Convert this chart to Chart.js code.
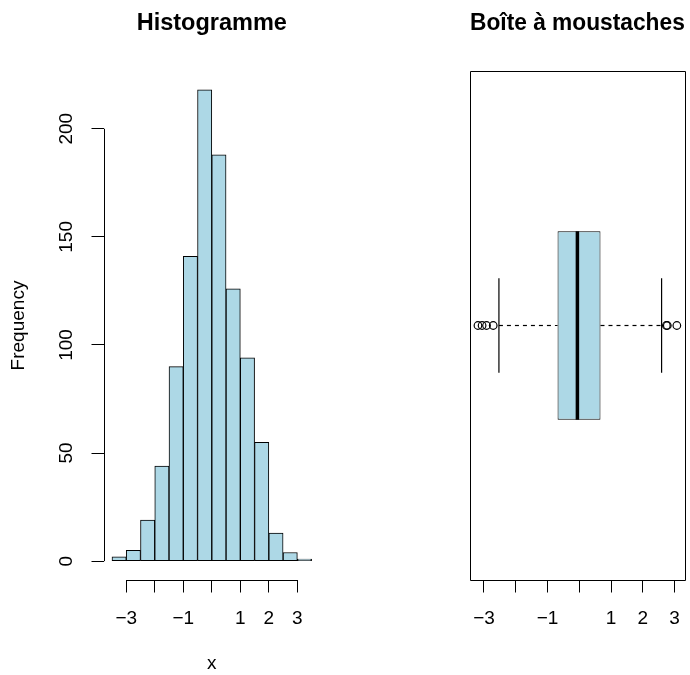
<!DOCTYPE html>
<html>
<head>
<meta charset="utf-8">
<script src="https://cdn.jsdelivr.net/npm/chart.js@4/dist/chart.umd.min.js"></script>
<style>
body { margin: 0; background: #fff; }
#wrap { position: relative; width: 690px; height: 675px; }
canvas { position: absolute; top: 0; }
#histChart { left: 0; }
#boxChart { left: 345px; }
</style>
</head>
<body>
<div id="wrap">
<canvas id="histChart" width="345" height="675"></canvas>
<canvas id="boxChart" width="345" height="675"></canvas>
</div>
<script>
// histogram, bins of width 0.5
const binEdges = [-3.5, -3, -2.5, -2, -1.5, -1, -0.5, 0, 0.5, 1, 1.5, 2, 2.5, 3, 3.5];
const binCounts = [2, 5, 19, 44, 90, 141, 218, 188, 126, 94, 55, 13, 4, 1];
const freqTicks = [0, 50, 100, 150, 200];
const xTicks = [-3, -2, -1, 0, 1, 2, 3];
const xTickLabels = ['\u22123', '', '\u22121', '', '1', '2', '3'];
// boxplot: lower whisker, Q1, median, Q3, upper whisker
const boxStats = [-2.53, -0.685, -0.06, 0.667, 2.59];
const outliers = [-3.19, -3.06, -2.92, -2.71, 2.74, 2.77, 3.07];

Chart.defaults.font.family = '"Liberation Sans", Arial, sans-serif';
Chart.defaults.color = '#000';

const tickFont = { size: 19 };
const titleFont = { size: 23.5, weight: 'bold' };

// R pads every axis range by 4%
function rRange(lo, hi) {
    const d = (hi - lo) * 0.04;
    return [lo - d, hi + d];
}

function crisp(v) {
    return Math.round(v) + 0.5;
}

// axis lines only between first and last tick, like R, plus optional box()
const rAxes = {
    id: 'rAxes',
    afterDraw(chart, args, opts) {
        const ctx = chart.ctx;
        const a = chart.chartArea;
        const xs = chart.scales.x;
        ctx.save();
        ctx.strokeStyle = '#000';
        ctx.lineWidth = 1;
        ctx.beginPath();
        if (opts.frame) {
            ctx.rect(crisp(a.left), crisp(a.top), Math.round(a.right) - Math.round(a.left), Math.round(a.bottom) - Math.round(a.top));
        } else {
            const yb = crisp(a.bottom);
            ctx.moveTo(xs.getPixelForValue(xTicks[0]), yb);
            ctx.lineTo(xs.getPixelForValue(xTicks[xTicks.length - 1]), yb);
            const ys = chart.scales.y;
            const xl = crisp(a.left);
            ctx.moveTo(xl, ys.getPixelForValue(freqTicks[0]));
            ctx.lineTo(xl, ys.getPixelForValue(freqTicks[freqTicks.length - 1]));
        }
        ctx.stroke();
        ctx.restore();
    }
};

function xScale(range, withTitle) {
    return {
        type: 'linear',
        min: range[0],
        max: range[1],
        offset: false,
        afterBuildTicks: s => { s.ticks = xTicks.map(v => ({ value: v })); },
        afterFit: s => {
            s.height = 95;
            s.paddingLeft = 0;
            s.paddingRight = 0;
        },
        grid: { offset: false, drawOnChartArea: false, tickLength: 12.5, color: '#000', lineWidth: 1 },
        border: { display: false },
        ticks: {
            autoSkip: false, maxRotation: 0, padding: 14.5, font: tickFont,
            callback: (v, i) => xTickLabels[i]
        },
        title: { display: withTitle, text: 'x', font: tickFont, padding: 0 }
    };
}

function mainTitle(text) {
    return {
        display: true, text: text, fullSize: false, font: titleFont,
        padding: { top: 9.5, bottom: 33.3 }
    };
}

// --- histogram ---
const hx = rRange(binEdges[0], binEdges[binEdges.length - 1]);
const hy = rRange(0, Math.max(...binCounts));

new Chart(document.getElementById('histChart'), {
    type: 'bar',
    data: {
        datasets: [{
            data: binCounts.map((c, i) => ({ x: (binEdges[i] + binEdges[i + 1]) / 2, y: c })),
            backgroundColor: '#add8e6',
            borderColor: '#000',
            borderWidth: 1,
            borderSkipped: false,
            barPercentage: 1,
            categoryPercentage: 1
        }]
    },
    options: {
        responsive: false,
        animation: false,
        events: [],
        layout: { padding: { top: 0, right: 25.4, bottom: 0, left: 0 } },
        plugins: {
            legend: { display: false },
            tooltip: { enabled: false },
            title: mainTitle('Histogramme'),
            rAxes: { frame: false }
        },
        scales: {
            x: xScale(hx, true),
            y: {
                type: 'linear',
                min: hy[0],
                max: hy[1],
                afterBuildTicks: s => { s.ticks = freqTicks.map(v => ({ value: v })); },
                afterFit: s => { s.width = 104; },
                grid: { drawOnChartArea: false, tickLength: 12.5, color: '#000', lineWidth: 1 },
                border: { display: false },
                ticks: { autoSkip: false, minRotation: 90, maxRotation: 90, crossAlign: 'center', padding: 9, font: tickFont },
                title: { display: true, text: 'Frequency', font: tickFont, padding: { top: 7, bottom: 0 } }
            }
        }
    },
    plugins: [rAxes]
});

// --- boxplot (horizontal) ---
const bx = rRange(Math.min(...outliers, boxStats[0]), Math.max(...outliers, boxStats[4]));
const by = rRange(0.5, 1.5);
const boxWidth = 0.4;
const capWidth = 0.2;

function segment(x0, y0, x1, y1, extra) {
    return Object.assign({
        type: 'line',
        data: [{ x: x0, y: y0 }, { x: x1, y: y1 }],
        borderColor: '#000',
        borderWidth: 1.2,
        pointRadius: 0,
        fill: false,
        order: 2
    }, extra || {});
}

new Chart(document.getElementById('boxChart'), {
    type: 'bar',
    data: {
        datasets: [
            segment(boxStats[2], 1 - boxWidth / 2, boxStats[2], 1 + boxWidth / 2, { borderWidth: 3.5, order: 0 }),
            {
                type: 'scatter',
                data: outliers.map(v => ({ x: v, y: 1 })),
                pointStyle: 'circle',
                pointRadius: 3.8,
                pointBorderColor: '#000',
                pointBackgroundColor: 'rgba(0,0,0,0)',
                pointBorderWidth: 1.2,
                order: 0
            },
            {
                type: 'bar',
                indexAxis: 'y',
                data: [{ x: [boxStats[1], boxStats[3]], y: 1 }],
                backgroundColor: '#add8e6',
                borderColor: '#000',
                borderWidth: 1,
                borderSkipped: false,
                categoryPercentage: 1,
                barPercentage: boxWidth / (by[1] - by[0]),
                order: 1
            },
            segment(boxStats[0], 1, boxStats[1], 1, { borderDash: [4, 4] }),
            segment(boxStats[3], 1, boxStats[4], 1, { borderDash: [4, 4] }),
            segment(boxStats[0], 1 - capWidth / 2, boxStats[0], 1 + capWidth / 2),
            segment(boxStats[4], 1 - capWidth / 2, boxStats[4], 1 + capWidth / 2)
        ]
    },
    options: {
        responsive: false,
        animation: false,
        events: [],
        layout: { padding: { top: 0, right: 3, bottom: 0, left: 125 } },
        plugins: {
            legend: { display: false },
            tooltip: { enabled: false },
            title: mainTitle('Bo\u00eete \u00e0 moustaches'),
            rAxes: { frame: true }
        },
        scales: {
            x: xScale(bx, false),
            y: {
                type: 'linear',
                display: false,
                offset: false,
                min: by[0],
                max: by[1],
                afterBuildTicks: s => { s.ticks = [{ value: 1 }]; }
            }
        }
    },
    plugins: [rAxes]
});
</script>
</body>
</html>
